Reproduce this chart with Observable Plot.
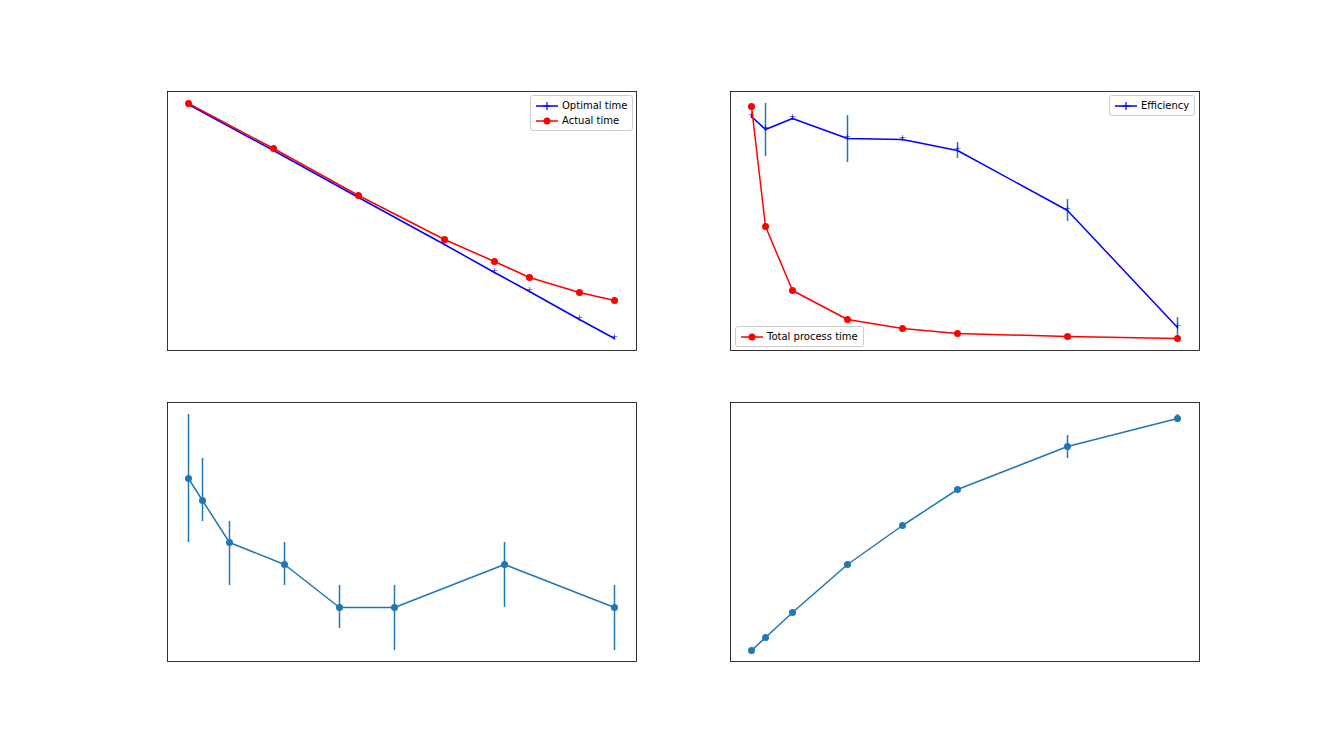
<!DOCTYPE html>
<html><head><meta charset="utf-8">
<script src="https://cdn.jsdelivr.net/npm/d3@7"></script>
<script src="https://cdn.jsdelivr.net/npm/@observablehq/plot@0.6"></script>
<style>
body{margin:0;background:#fff;font-family:"DejaVu Sans",sans-serif;}
.panel{position:absolute;}
.legend{position:absolute;background:rgba(255,255,255,0.8);border:1px solid #ccc;border-radius:3px;font-size:10px;padding:2px 5px;line-height:15px;}
.legend svg{vertical-align:middle;margin-right:4px;}
</style></head><body>
<div id="root"></div>
<script>
// x positions (arbitrary units)
const xA = [21, 106, 191, 277, 327, 362, 412, 447];
const xB = [21, 35, 62, 117, 172, 227, 337, 447];
// top-left: times
const optimal = [246, 200, 153, 106, 78, 59, 31, 12];
const actual = [247, 202, 155, 111, 89, 73, 58, 50];
// top-right: efficiency and total process time
const efficiency = [234, 221, 232, 212, 211, 200, 140, 23];
const effLo = [232, 194, 230, 188, 209, 192, 129, 12];
const effHi = [236, 247, 234, 235, 213, 208, 151, 33];
const total = [244, 124, 60, 31, 22, 17, 14, 12];
// bottom-left
const c = [183, 161, 119, 97, 54, 54, 97, 54];
const cLo = [119, 140, 76, 76, 33, 11, 54, 11];
const cHi = [247, 203, 140, 119, 76, 76, 119, 76];
// bottom-right
const d = [11, 24, 49, 97, 136, 172, 215, 243];
const dLo = [11, 23, 48, 96, 135, 171, 203, 239];
const dHi = [11, 25, 50, 98, 137, 173, 226, 247];

const rows = (xs, ...cols) => xs.map((x, i) => ({x, ...Object.fromEntries(cols.map(([k, v]) => [k, v[i]]))}));
const tA = rows(xA, ["o", optimal], ["a", actual]);
const tB = rows(xB, ["e", efficiency], ["lo", effLo], ["hi", effHi], ["t", total]);
const tC = rows(xB, ["y", c], ["lo", cLo], ["hi", cHi]);
const tD = rows(xB, ["y", d], ["lo", dLo], ["hi", dHi]);

const base = {
  width: 469, height: 259, margin: 0,
  x: {domain: [0, 469], axis: null},
  y: {domain: [0, 259], axis: null},
  style: {background: "transparent", overflow: "visible"}
};
const frame = Plot.frame({stroke: "#000", strokeWidth: 0.8});
const blue = "#1f77b4";
const plus = (data, y) => Plot.text(data, {x: "x", y, text: () => "+", fill: "blue", fontSize: 12, fontWeight: 300});

const panels = [
  [167, 91, [
    Plot.line(tA, {x: "x", y: "o", stroke: "blue", strokeWidth: 1.5}),
    plus(tA, "o"),
    Plot.line(tA, {x: "x", y: "a", stroke: "red", strokeWidth: 1.5}),
    Plot.dot(tA, {x: "x", y: "a", fill: "red", r: 3.5}),
    frame]],
  [730, 91, [
    Plot.ruleX(tB, {x: "x", y1: "lo", y2: "hi", stroke: blue, strokeWidth: 1.5}),
    Plot.line(tB, {x: "x", y: "e", stroke: "blue", strokeWidth: 1.5}),
    plus(tB, "e"),
    Plot.line(tB, {x: "x", y: "t", stroke: "red", strokeWidth: 1.5}),
    Plot.dot(tB, {x: "x", y: "t", fill: "red", r: 3.5}),
    frame]],
  [167, 402, [
    Plot.ruleX(tC, {x: "x", y1: "lo", y2: "hi", stroke: blue, strokeWidth: 1.5}),
    Plot.line(tC, {x: "x", y: "y", stroke: blue, strokeWidth: 1.5}),
    Plot.dot(tC, {x: "x", y: "y", fill: blue, r: 3.5}),
    frame]],
  [730, 402, [
    Plot.ruleX(tD, {x: "x", y1: "lo", y2: "hi", stroke: blue, strokeWidth: 1.5}),
    Plot.line(tD, {x: "x", y: "y", stroke: blue, strokeWidth: 1.5}),
    Plot.dot(tD, {x: "x", y: "y", fill: blue, r: 3.5}),
    frame]]
];
const root = document.getElementById("root");
for (const [left, top, marks] of panels) {
  const div = document.createElement("div");
  div.className = "panel";
  div.style.left = left + "px"; div.style.top = top + "px";
  div.append(Plot.plot({...base, marks}));
  root.append(div);
}

function legend(left, top, items) {
  const div = document.createElement("div");
  div.className = "legend";
  div.style.left = left + "px"; div.style.top = top + "px";
  div.innerHTML = items.map(([label, color, sym]) =>
    `<div><svg width="22" height="8"><line x1="0" x2="22" y1="4" y2="4" stroke="${color}" stroke-width="1.5"/>` +
    (sym === "plus" ? `<path d="M7,4H15M11,0V8" stroke="${color}" stroke-width="1.2"/>`
                    : `<circle cx="11" cy="4" r="3.5" fill="${color}"/>`) +
    `</svg>${label}</div>`).join("");
  root.append(div);
}
legend(530, 95, [["Optimal time", "blue", "plus"], ["Actual time", "red", "dot"]]);
legend(1109, 95, [["Efficiency", "blue", "plus"]]);
legend(735, 326, [["Total process time", "red", "dot"]]);
</script>
</body></html>
